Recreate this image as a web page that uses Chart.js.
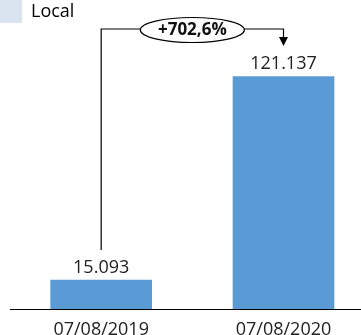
<!DOCTYPE html>
<html lang="pt-br">
<head>
    <meta charset="UTF-8">
    <title>Local</title>
    <script src="https://cdn.jsdelivr.net/npm/chart.js"></script>
    <style>
        html, body {
            margin: 0;
            padding: 0;
            background: #fff;
        }
        .box {
            width: 361px;
            height: 335px;
        }
    </style>
</head>
<body>
    <div class="box">
        <canvas id="grafico"></canvas>
    </div>

    <script>
        const datas = ['07/08/2019', '07/08/2020'];
        const valores = [15093, 121137];
        const serie = 'Local';

        function formatar(n) {
            return String(n).replace(/\B(?=(\d{3})+(?!\d))/g, '.');
        }

        const variacao = (valores[1] / valores[0] - 1) * 100;
        const textoVariacao = '+' + variacao.toFixed(1).replace('.', ',') + '%';

        // rótulos de valor + seta de variação
        const anotacoes = {
            id: 'anotacoes',
            afterDatasetsDraw(chart) {
                const ctx = chart.ctx;
                const barras = chart.getDatasetMeta(0).data;
                ctx.save();
                ctx.fillStyle = '#222';
                ctx.font = '18px "Open Sans"';
                ctx.textAlign = 'center';
                ctx.textBaseline = 'alphabetic';
                barras.forEach((b, i) => {
                    ctx.fillText(formatar(valores[i]), b.x, b.y - 7);
                });

                const x1 = barras[0].x, x2 = barras[1].x;
                const yTopo = 29;
                const cx = (x1 + x2) / 2, rx = 52, ry = 12.5;
                ctx.strokeStyle = '#000';
                ctx.lineWidth = 1.2;
                ctx.beginPath();
                ctx.moveTo(x1, barras[0].y - 30);
                ctx.lineTo(x1, yTopo);
                ctx.lineTo(cx - rx, yTopo);
                ctx.moveTo(cx + rx, yTopo);
                ctx.lineTo(x2, yTopo);
                ctx.lineTo(x2, 38);
                ctx.stroke();

                ctx.fillStyle = '#000';
                ctx.beginPath();
                ctx.moveTo(x2 - 4.5, 37);
                ctx.lineTo(x2 + 4.5, 37);
                ctx.lineTo(x2, 46);
                ctx.closePath();
                ctx.fill();

                ctx.fillStyle = '#fff';
                ctx.beginPath();
                ctx.ellipse(cx, yTopo + 1, rx, ry, 0, 0, Math.PI * 2);
                ctx.fill();
                ctx.stroke();

                ctx.fillStyle = '#111';
                ctx.font = 'bold 17px "Open Sans"';
                ctx.textBaseline = 'middle';
                ctx.fillText(textoVariacao, cx, yTopo + 1);
                ctx.restore();
            }
        };

        new Chart(document.getElementById('grafico'), {
            type: 'bar',
            data: {
                datasets: [{
                    label: serie,
                    data: valores.map((v, i) => ({ x: i, y: v })),
                    backgroundColor: '#5b9bd5',
                    barThickness: 101
                }]
            },
            options: {
                responsive: true,
                maintainAspectRatio: false,
                animation: false,
                layout: {
                    padding: 0
                },
                plugins: {
                    legend: {
                        position: 'top',
                        align: 'start',
                        labels: {
                            padding: 0,
                            boxWidth: 22,
                            boxHeight: 23,
                            color: '#222',
                            font: { family: 'Open Sans', size: 18 },
                            generateLabels: () => [{
                                text: serie,
                                fillStyle: '#dae3f0',
                                strokeStyle: '#dae3f0',
                                lineWidth: 0
                            }]
                        }
                    },
                    tooltip: { enabled: false }
                },
                scales: {
                    x: {
                        type: 'linear',
                        offset: false,
                        min: -0.5,
                        max: 1.425,
                        grid: { display: false },
                        border: { display: true, color: '#000', width: 1 },
                        ticks: {
                            color: '#222',
                            padding: 2,
                            font: { family: 'Open Sans', size: 18 },
                            callback: (v) => datas[v] ?? ''
                        },
                        afterBuildTicks(s) {
                            s.ticks = datas.map((_, i) => ({ value: i }));
                        },
                        afterFit(s) { s.height = 26; }
                    },
                    y: {
                        beginAtZero: true,
                        max: 143800,
                        grid: { display: false },
                        border: { display: false },
                        ticks: { display: false },
                        afterFit(s) { s.width = 10; }
                    }
                }
            },
            plugins: [anotacoes]
        });
    </script>
</body>
</html>
